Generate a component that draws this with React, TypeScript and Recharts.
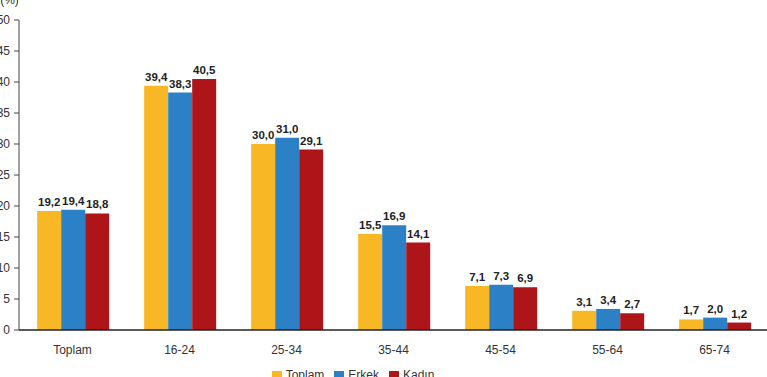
import React from 'react';
import { BarChart, Bar, XAxis, YAxis, LabelList, Legend } from 'recharts';

const categories = ['Toplam', '16-24', '25-34', '35-44', '45-54', '55-64', '65-74'];
const seriesNames = ['Toplam', 'Erkek', 'Kadın'];
const toplam = [19.2, 39.4, 30.0, 15.5, 7.1, 3.1, 1.7];
const erkek = [19.4, 38.3, 31.0, 16.9, 7.3, 3.4, 2.0];
const kadin = [18.8, 40.5, 29.1, 14.1, 6.9, 2.7, 1.2];
const yTicks = [0, 5, 10, 15, 20, 25, 30, 35, 40, 45, 50];
const boundaryTicks = [0, 1, 2, 3, 4, 5, 6, 7];

const data = categories.map((c, i) => ({
  name: c,
  pos: i + 0.5,
  toplam: toplam[i],
  erkek: erkek[i],
  kadin: kadin[i],
}));

const FONT = '"Liberation Sans", Arial, sans-serif';
const fmt = (v: any) => Number(v).toFixed(1).replace('.', ',');

const labelStyle = { fontSize: 11.5, fontWeight: 700, fill: '#222', fontFamily: FONT };

export default function App() {
  return (
    <div style={{ position: 'absolute', left: 0, top: 0, width: 767, height: 377, overflow: 'hidden', background: '#fff' }}>
      <BarChart
        width={770}
        height={392}
        data={data}
        margin={{ top: 20, right: 2, left: 0, bottom: 6 }}
        barCategoryGap="17%"
        barGap={0}
        style={{ fontFamily: FONT }}
      >
        <XAxis
          xAxisId="num"
          type="number"
          dataKey="pos"
          domain={[0, 7]}
          ticks={boundaryTicks}
          tick={false}
          axisLine={false}
          tickLine={{ stroke: '#333' }}
          tickSize={5}
          height={0}
        />
        <XAxis
          xAxisId="cat"
          dataKey="name"
          type="category"
          tickLine={false}
          axisLine={{ stroke: '#222', strokeWidth: 1.5 }}
          tick={{ fontSize: 12, fill: '#333', fontFamily: FONT }}
          tickMargin={9}
          height={38}
          interval={0}
        />
        <YAxis
          domain={[0, 50]}
          ticks={yTicks}
          width={19}
          interval={0}
          axisLine={{ stroke: '#444' }}
          tickLine={{ stroke: '#444' }}
          tickSize={5}
          tickMargin={4}
          tick={{ fontSize: 12, fill: '#333', fontFamily: FONT }}
          label={{ value: '(%)', position: 'top', offset: 16, fontSize: 12, fill: '#333', fontFamily: FONT }}
        />
        <Legend
          verticalAlign="bottom"
          height={18}
          iconType="square"
          iconSize={10}
          itemSorter={(item: any) => seriesNames.indexOf(item.value)}
          formatter={(value: any) => <span style={{ color: '#333' }}>{value}</span>}
          wrapperStyle={{ fontSize: 12, fontFamily: FONT, paddingLeft: 0, marginLeft: -26 }}
        />
        <Bar xAxisId="cat" dataKey="toplam" name={seriesNames[0]} fill="#f8b725" isAnimationActive={false}>
          <LabelList dataKey="toplam" position="top" offset={5} formatter={fmt} style={labelStyle} />
        </Bar>
        <Bar xAxisId="cat" dataKey="erkek" name={seriesNames[1]} fill="#2b80c6" isAnimationActive={false}>
          <LabelList dataKey="erkek" position="top" offset={5} formatter={fmt} style={labelStyle} />
        </Bar>
        <Bar xAxisId="cat" dataKey="kadin" name={seriesNames[2]} fill="#ad1519" isAnimationActive={false}>
          <LabelList dataKey="kadin" position="top" offset={5} formatter={fmt} style={labelStyle} />
        </Bar>
      </BarChart>
    </div>
  );
}
